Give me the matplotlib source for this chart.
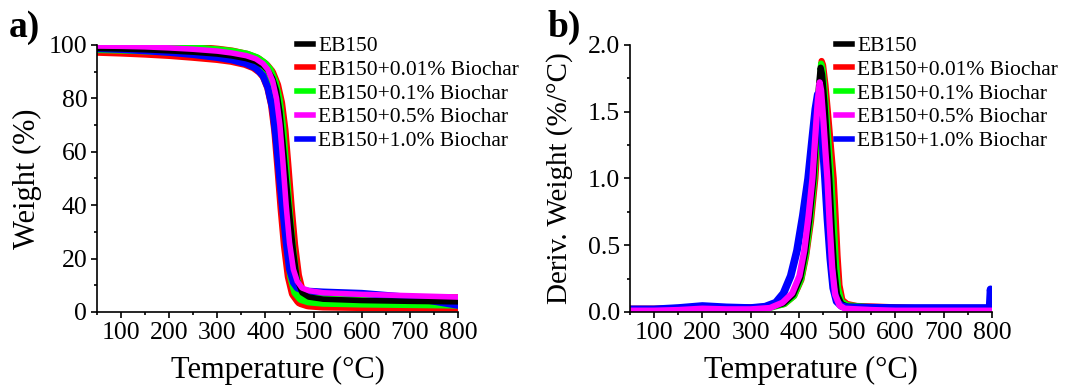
import matplotlib
matplotlib.use('Agg')
import matplotlib.pyplot as plt
from matplotlib.lines import Line2D
from matplotlib.ticker import MultipleLocator

plt.rcParams['font.family'] = ['Liberation Serif', 'DejaVu Serif']

# TGA curves (weight %)
temp_tga = [50, 100, 150, 200, 250, 300, 330, 360, 380, 395, 405, 415, 423,
            430, 436, 443, 450, 458, 466, 476, 490, 520, 600, 700, 800]
w_eb150 = [98.7, 98.5, 98.2, 97.8, 97.3, 96.6, 95.9, 94.9, 93.8, 92.2, 90.5, 87.5, 83.0,
           75.0, 64.0, 50.0, 37.0, 23.0, 12.0, 7.2, 5.6, 4.8, 4.3, 4.0, 3.8]
w_001 = [99.2, 98.9, 98.5, 98.0, 97.3, 96.5, 95.8, 94.6, 93.2, 91.2, 89.0, 84.5, 78.0,
         68.0, 55.0, 39.0, 25.0, 13.5, 7.5, 5.0, 4.2, 3.8, 3.6, 3.5, 3.4]
w_01 = [99.3, 99.1, 98.8, 98.4, 97.9, 97.2, 96.6, 95.6, 94.3, 92.4, 90.2, 85.8, 79.5,
        69.5, 56.0, 40.0, 25.5, 13.5, 7.8, 5.6, 4.8, 4.3, 4.0, 3.8, 3.6]
w_05 = [99.6, 99.5, 99.3, 98.9, 98.4, 97.7, 97.0, 96.0, 94.8, 93.0, 90.8, 86.5, 80.0,
        70.0, 57.0, 40.0, 26.0, 16.0, 11.5, 9.0, 8.0, 7.2, 6.6, 6.1, 5.6]
w_10 = [98.6, 98.3, 97.8, 97.2, 96.4, 95.3, 94.4, 93.0, 91.3, 88.5, 84.0, 76.0, 63.0,
        49.0, 38.0, 26.0, 16.0, 11.0, 9.0, 8.2, 7.8, 7.5, 7.0, 5.5, 2.5]

# DTG curves (%/°C), each with its own temperature points
t_d_eb150 = [50, 100, 150, 200, 250, 300, 340, 368, 388, 403, 413, 422, 430, 436, 441, 445,
             448, 453, 458, 463, 468, 473, 479, 488, 500, 550, 600, 700, 800]
d_eb150 = [0.02, 0.02, 0.025, 0.035, 0.03, 0.03, 0.035, 0.065, 0.13, 0.26, 0.45, 0.71, 1.00, 1.36,
           1.67, 1.83, 1.78, 1.56, 1.27, 1.00, 0.62, 0.32, 0.13, 0.06, 0.04, 0.035, 0.03, 0.03, 0.03]
t_d_001 = [50, 100, 150, 200, 250, 300, 340, 370, 390, 405, 415, 425, 434, 440, 444, 447,
           450, 455, 460, 466, 472, 476, 480, 484, 490, 500, 520, 600, 700, 800]
d_001 = [0.025, 0.025, 0.03, 0.04, 0.035, 0.035, 0.04, 0.06, 0.12, 0.24, 0.42, 0.68, 1.00, 1.35,
         1.65, 1.88, 1.85, 1.70, 1.50, 1.25, 1.00, 0.72, 0.42, 0.20, 0.09, 0.06, 0.045, 0.035,
         0.02, 0.02]
t_d_01 = [50, 100, 150, 200, 250, 300, 340, 370, 390, 405, 415, 424, 432, 438, 442, 446,
          449, 454, 459, 464, 467, 472, 476, 481, 488, 500, 550, 600, 700, 800]
d_01 = [0.015, 0.015, 0.02, 0.03, 0.025, 0.025, 0.03, 0.06, 0.12, 0.25, 0.44, 0.70, 1.00, 1.36,
        1.66, 1.86, 1.82, 1.62, 1.38, 1.14, 1.00, 0.68, 0.40, 0.18, 0.08, 0.05, 0.035, 0.03,
        0.025, 0.02]
t_d_05 = [50, 100, 150, 200, 250, 300, 340, 366, 386, 401, 411, 420, 428, 434, 439, 443,
          446, 451, 455, 459, 464, 469, 475, 484, 495, 550, 600, 700, 800]
d_05 = [0.01, 0.01, 0.015, 0.025, 0.02, 0.02, 0.03, 0.07, 0.14, 0.27, 0.46, 0.72, 1.00, 1.32,
        1.58, 1.72, 1.66, 1.42, 1.20, 1.00, 0.64, 0.33, 0.13, 0.05, 0.025, 0.015, 0.01, 0.01, 0.01]
t_d_10 = [50, 100, 150, 200, 250, 300, 330, 352, 368, 383, 396, 408, 419, 427, 434, 439,
          444, 449, 454, 459, 465, 471, 478, 488, 500, 600, 700, 795, 797, 798, 800]
d_10 = [0.02, 0.02, 0.03, 0.045, 0.035, 0.03, 0.04, 0.07, 0.14, 0.27, 0.46, 0.72, 1.00, 1.28,
        1.52, 1.63, 1.52, 1.27, 1.00, 0.70, 0.40, 0.18, 0.08, 0.045, 0.035, 0.03, 0.03, 0.03,
        0.17, 0.14, 0.08]

labels = ['EB150', 'EB150+0.01% Biochar', 'EB150+0.1% Biochar',
          'EB150+0.5% Biochar', 'EB150+1.0% Biochar']
colors = ['#000000', '#FF0000', '#00FF00', '#FF00FF', '#0000FF']

tga = [w_eb150, w_001, w_01, w_05, w_10]
dtg_t = [t_d_eb150, t_d_001, t_d_01, t_d_05, t_d_10]
dtg = [d_eb150, d_001, d_01, d_05, d_10]

fig = plt.figure(figsize=(10.67, 3.87), dpi=100)
ax1 = fig.add_axes([0.0909, 0.1938, 0.3383, 0.690])
ax2 = fig.add_axes([0.5904, 0.1938, 0.3393, 0.690])

# TGA: red and green drawn broad underneath, others on top
tga_widths = [4.0, 12.5, 9.0, 4.0, 5.0]
for i in [1, 2, 4, 0, 3]:
    ax1.plot(temp_tga, tga[i], color=colors[i], lw=tga_widths[i], solid_joinstyle='round')

# DTG: red, green, black, blue, magenta on top
dtg_widths = [4.5, 4.5, 4.5, 4.5, 5.5]
for i in [1, 2, 0, 4, 3]:
    ax2.plot(dtg_t[i], dtg[i], color=colors[i], lw=dtg_widths[i], solid_joinstyle='round')

handles = [Line2D([], [], color=c, lw=4) for c in colors]

for ax, ylab, ysize, leg_x in [(ax1, 'Weight (%)', 22, 0.53),
                               (ax2, 'Deriv. Weight (%/°C)', 21, 0.545)]:
    ax.set_xlim(50, 800)
    ax.set_xticks(range(100, 801, 100))
    ax.xaxis.set_minor_locator(MultipleLocator(50))
    ax.spines['top'].set_visible(False)
    ax.spines['right'].set_visible(False)
    for s in ['left', 'bottom']:
        ax.spines[s].set_linewidth(1.2)
    ax.tick_params(which='major', direction='out', length=4.5, width=1.2, labelsize=18.5, pad=2.5)
    ax.tick_params(which='minor', direction='out', length=2.5, width=1.2)
    ax.set_xlabel('Temperature (°C)', fontsize=22)
    ax.set_ylabel(ylab, fontsize=ysize)
    ax.xaxis.set_label_coords(0.5, -0.165)
    ax.legend(handles, labels, loc='upper left', bbox_to_anchor=(leg_x, 1.065), frameon=False,
              fontsize=15.5, handlelength=0.75, handletextpad=0.25, labelspacing=0.17,
              borderaxespad=0)

ax1.set_ylim(0, 100)
ax1.yaxis.set_major_locator(MultipleLocator(20))
ax1.yaxis.set_minor_locator(MultipleLocator(10))
ax1.yaxis.set_label_coords(-0.152, 0.5)

ax2.set_ylim(0, 2.0)
ax2.set_yticks([0.0, 0.5, 1.0, 1.5, 2.0])
ax2.set_yticklabels(['0.0', '0.5', '1.0', '1.5', '2.0'])
ax2.yaxis.set_minor_locator(MultipleLocator(0.25))
ax2.yaxis.set_label_coords(-0.157, 0.5)

fig.text(0.008, 0.975, 'a)', fontsize=27, fontweight='bold', va='top', ha='left')
fig.text(0.513, 0.975, 'b)', fontsize=27, fontweight='bold', va='top', ha='left')

fig.savefig('out.png', dpi=100)
